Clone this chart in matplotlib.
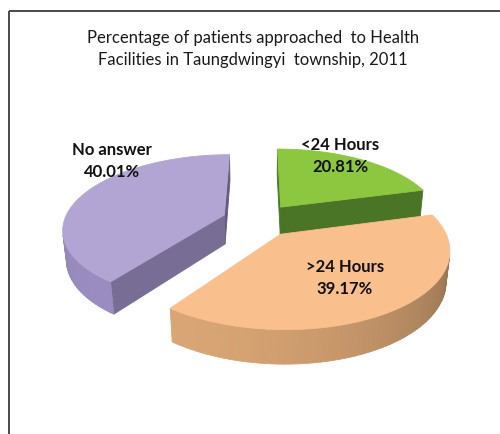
import numpy as np
import matplotlib
matplotlib.use('Agg')
import matplotlib.pyplot as plt
from matplotlib.patches import Polygon, Rectangle

# data
labels = ['<24 Hours', '>24 Hours', 'No answer']
values = [20.81, 39.17, 40.01]
top_colors = ['#8DC63F', '#F9BF8D', '#B3A5D3']
side_colors = ['#52802A', '#D9A574', '#9A8CC0']
label_pos = [(340, 156), (345, 278), (112, 161)]
title = 'Percentage of patients approached  to Health\nFacilities in Taungdwingyi  township, 2011'

# 3d view settings (pixel space)
elev = np.radians(27)
dist = 5.0
focal = 800
cx, cy = 259, 221
thick = 0.21
explode = 0.23
light = np.array([-0.6, -0.8])
cam = np.array([0.0, -dist * np.cos(elev), dist * np.sin(elev)])


def project(X, Y, Z):
    d = dist + Y * np.cos(elev) - Z * np.sin(elev)
    sx = focal * X / d
    sy = focal * (Y * np.sin(elev) + Z * np.cos(elev)) / d
    return cx + sx, cy - sy


def shade(col, n):
    rgb = np.array(matplotlib.colors.to_rgb(col))
    f = 0.78 + 0.22 * float(np.dot(n, light))
    return tuple(np.clip(rgb * f, 0, 1))


def visible(p, n):
    v = np.array([p[0], p[1], p[2]]) - cam
    return v[0] * n[0] + v[1] * n[1] < 0


def poly(ax, pts, fc):
    xy = [project(*p) for p in pts]
    ax.add_patch(Polygon(xy, closed=True, fc=fc, ec=fc, lw=0.6))


fig = plt.figure(figsize=(5, 4.35), dpi=100)
ax = fig.add_axes([0, 0, 1, 1])
ax.set_xlim(0, 500)
ax.set_ylim(435, 0)
ax.axis('off')

# slice angles: start at 12 o'clock, clockwise
slices = []
start = 90.0
for i, v in enumerate(values):
    hi = start
    lo = start - v * 3.6
    start = lo
    mid = np.radians((lo + hi) / 2)
    ox, oy = explode * np.cos(mid), explode * np.sin(mid)
    slices.append((i, np.radians(lo), np.radians(hi), ox, oy))

# back slices first
slices.sort(key=lambda s: -s[4])

for i, lo, hi, ox, oy in slices:
    faces = []
    # radial faces
    for a, n in [(lo, (np.sin(lo), -np.cos(lo))), (hi, (-np.sin(hi), np.cos(hi)))]:
        rx, ry = ox + np.cos(a), oy + np.sin(a)
        pts = [(ox, oy, 0), (rx, ry, 0), (rx, ry, -thick), (ox, oy, -thick)]
        mp = ((ox + rx) / 2, (oy + ry) / 2, 0)
        if visible(mp, n):
            faces.append(((oy + ry) / 2, pts, shade(side_colors[i], np.array(n))))
    # outer wall
    t = np.linspace(lo, hi, 80)
    for a0, a1 in zip(t[:-1], t[1:]):
        am = (a0 + a1) / 2
        n = np.array([np.cos(am), np.sin(am)])
        p0 = (ox + np.cos(a0), oy + np.sin(a0))
        p1 = (ox + np.cos(a1), oy + np.sin(a1))
        if visible((ox + n[0], oy + n[1], 0), n):
            pts = [(p0[0], p0[1], 0), (p1[0], p1[1], 0), (p1[0], p1[1], -thick), (p0[0], p0[1], -thick)]
            faces.append((oy + n[1], pts, shade(side_colors[i], n)))
    faces.sort(key=lambda f: -f[0])
    for _, pts, c in faces:
        poly(ax, pts, c)
    # top face
    top = [(ox, oy, 0)] + [(ox + np.cos(a), oy + np.sin(a), 0) for a in t]
    xy = [project(*p) for p in top]
    ax.add_patch(Polygon(xy, closed=True, fc=top_colors[i], ec=top_colors[i], lw=0.6))

for lab, v, (lx, ly) in zip(labels, values, label_pos):
    ax.text(lx, ly, '%s\n%.2f%%' % (lab, v), ha='center', va='center', fontsize=12,
            fontweight='bold', family='Lato', color='#111111', linespacing=1.4)

ax.text(253, 49, title, ha='center', va='center', fontsize=12, family='Lato',
        color='#1a1a1a', linespacing=1.45)

ax.add_patch(Rectangle((9, 12), 540, 460, fill=False, ec='#4a4a4a', lw=1.4))

fig.savefig('out.png', dpi=100)
